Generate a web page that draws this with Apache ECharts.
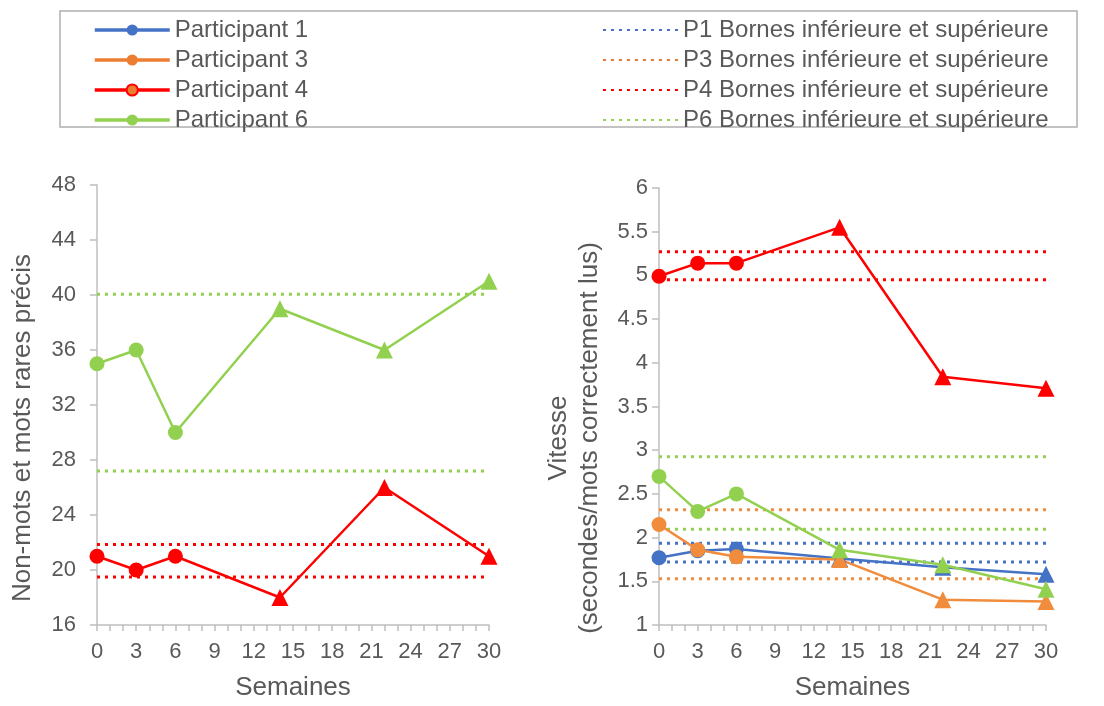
<!DOCTYPE html>
<html>
<head>
<meta charset="utf-8">
<script src="https://cdn.jsdelivr.net/npm/echarts@6/dist/echarts.min.js"></script>
<style>
  html, body { margin: 0; background: #fff; }
  #chart { width: 1104px; height: 706px; }
</style>
</head>
<body>
<div id="chart"></div>
<script>
const weeks = [0, 3, 6, 14, 22, 30]
const shapes = ['circle', 'circle', 'circle', 'triangle', 'triangle', 'triangle']
const participants = ['Participant 1', 'Participant 3', 'Participant 4', 'Participant 6']
const boundNames = [
  'P1 Bornes inférieure et supérieure',
  'P3 Bornes inférieure et supérieure',
  'P4 Bornes inférieure et supérieure',
  'P6 Bornes inférieure et supérieure'
]
const colors = ['#4472C4', '#F08C3C', '#FF0000', '#92D050']
const legendColors = ['#4472C4', '#ED7D31', '#FF0000', '#92D050']

// précision (graphique de gauche)
const accP4 = [21, 20, 21, 18, 26, 21]
const accP6 = [35, 36, 30, 39, 36, 41]
const accBoundsP4 = [19.5, 21.85]
const accBoundsP6 = [27.2, 40.05]

// vitesse (graphique de droite)
const speedP1 = [1.77, 1.85, 1.87, 1.76, 1.66, 1.58]
const speedP3 = [2.15, 1.86, 1.78, 1.75, 1.29, 1.27]
const speedP4 = [4.99, 5.14, 5.14, 5.55, 3.84, 3.71]
const speedP6 = [2.7, 2.3, 2.5, 1.86, 1.69, 1.41]
const speedBoundsP1 = [1.72, 1.935]
const speedBoundsP3 = [1.53, 2.32]
const speedBoundsP4 = [4.95, 5.27]
const speedBoundsP6 = [2.095, 2.925]

const textColor = '#595959'
const axisColor = '#bfbfbf'

const participantSeries = (idx, values, grid) => ({
  type: 'line',
  name: participants[idx],
  xAxisIndex: grid,
  yAxisIndex: grid,
  z: 5,
  color: colors[idx],
  lineStyle: { width: 2.5, color: colors[idx] },
  itemStyle: { color: colors[idx] },
  symbol: 'circle',
  symbolSize: 15,
  data: values.map((v, i) => ({
    value: [weeks[i], v],
    symbol: shapes[i],
    symbolSize: shapes[i] === 'triangle' ? 17 : 15
  }))
})

const boundSeries = (idx, bounds, grid) =>
  bounds.map((b) => ({
    type: 'line',
    name: boundNames[idx],
    xAxisIndex: grid,
    yAxisIndex: grid,
    z: 2,
    color: colors[idx],
    symbol: 'none',
    lineStyle: { width: 3, type: [3, 5], color: colors[idx] },
    data: [[weeks[0], b], [weeks[weeks.length - 1], b]]
  }))

const xAxisBase = (grid) => ({
  type: 'value',
  gridIndex: grid,
  min: 0,
  max: 30,
  interval: 3,
  name: 'Semaines',
  nameLocation: 'middle',
  nameGap: 50,
  nameTextStyle: { fontSize: 26, color: textColor, fontFamily: 'Liberation Sans' },
  axisLine: { lineStyle: { color: axisColor, width: 1.5 } },
  axisTick: { length: 6, lineStyle: { color: axisColor, width: 1.5 } },
  minorTick: { show: true, splitNumber: 3, length: 6, lineStyle: { color: axisColor, width: 1.5 } },
  splitLine: { show: false },
  axisLabel: { fontSize: 22, color: textColor, margin: 16, fontFamily: 'Liberation Sans' }
})

const yAxisBase = (grid, min, max, interval, margin) => ({
  type: 'value',
  gridIndex: grid,
  min: min,
  max: max,
  interval: interval,
  axisLine: { show: true, lineStyle: { color: axisColor, width: 1.5 } },
  axisTick: { show: true, length: 7, lineStyle: { color: axisColor, width: 1.5 } },
  splitLine: { show: false },
  axisLabel: { fontSize: 22, color: textColor, margin: margin, fontFamily: 'Liberation Sans' }
})

const chart = echarts.init(document.getElementById('chart'))

chart.setOption({
  animation: false,
  textStyle: { fontFamily: 'Liberation Sans' },
  grid: [
    { left: 97, width: 392, top: 185, height: 443 },
    { left: 659, width: 387, top: 188, height: 440 }
  ],
  legend: [
    {
      orient: 'vertical',
      left: 88,
      top: 13,
      itemWidth: 75,
      itemHeight: 14,
      itemGap: 6,
      selectedMode: false,
      textStyle: { fontSize: 24, color: textColor },
      data: participants.map((p, i) => ({
        name: p,
        lineStyle: { width: 3.5, color: legendColors[i] },
        itemStyle: i === 2
          ? { color: legendColors[1], borderColor: legendColors[2], borderWidth: 2 }
          : { color: legendColors[i] }
      }))
    },
    {
      orient: 'vertical',
      left: 597,
      top: 13,
      itemWidth: 75,
      itemHeight: 14,
      itemGap: 6,
      selectedMode: false,
      textStyle: { fontSize: 24, color: textColor },
      data: boundNames.map((b, i) => ({
        name: b,
        itemStyle: { opacity: 0 },
        lineStyle: { color: legendColors[i] }
      }))
    }
  ],
  xAxis: [xAxisBase(0), xAxisBase(1)],
  yAxis: [yAxisBase(0, 16, 48, 4, 21), yAxisBase(1, 1, 6, 0.5, 11)],
  graphic: [
    {
      type: 'rect',
      shape: { x: 60, y: 11, width: 1017, height: 116 },
      style: { fill: 'none', stroke: '#b0b0b0', lineWidth: 1.5 }
    },
    {
      type: 'text',
      x: 23,
      y: 428,
      rotation: Math.PI / 2,
      style: {
        text: 'Non-mots et mots rares précis',
        fontSize: 26,
        fontFamily: 'Liberation Sans',
        fill: textColor,
        align: 'center',
        verticalAlign: 'middle'
      }
    },
    {
      type: 'text',
      x: 574,
      y: 438,
      rotation: Math.PI / 2,
      style: {
        text: 'Vitesse\n(secondes/mots correctement lus)',
        fontSize: 26,
        lineHeight: 31,
        fontFamily: 'Liberation Sans',
        fill: textColor,
        align: 'center',
        verticalAlign: 'middle'
      }
    }
  ],
  series: [
    ...boundSeries(2, accBoundsP4, 0),
    ...boundSeries(3, accBoundsP6, 0),
    participantSeries(2, accP4, 0),
    participantSeries(3, accP6, 0),
    ...boundSeries(0, speedBoundsP1, 1),
    ...boundSeries(1, speedBoundsP3, 1),
    ...boundSeries(2, speedBoundsP4, 1),
    ...boundSeries(3, speedBoundsP6, 1),
    participantSeries(0, speedP1, 1),
    participantSeries(1, speedP3, 1),
    participantSeries(2, speedP4, 1),
    participantSeries(3, speedP6, 1)
  ]
})
</script>
</body>
</html>
